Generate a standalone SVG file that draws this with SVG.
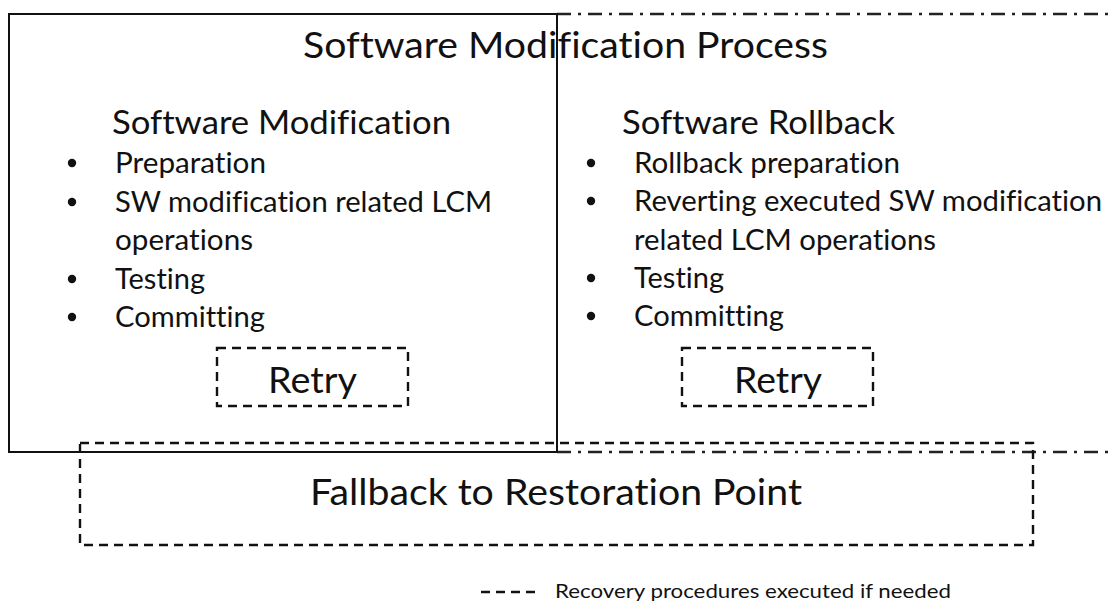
<svg xmlns="http://www.w3.org/2000/svg" width="1114" height="602" viewBox="0 0 1114 602">
<style>
text{font-family:Lato,"Open Sans","Liberation Sans",sans-serif;fill:#111;font-variant-ligatures:none}
circle{fill:#111}
.solid{fill:none;stroke:#111;stroke-width:2}
.dash{fill:none;stroke:#111;stroke-width:2.4;stroke-dasharray:9 6}
.dashdot{fill:none;stroke:#222;stroke-width:2.5;stroke-dasharray:14 7 3 7}
.h1{font-size:37px}
.h2{font-size:33px}
.b{font-size:28px}
.r{font-size:37px}
</style>
<rect width="1114" height="602" fill="#fff"/>
<g id="process">
<path class="dashdot" d="M557 14 H1120 M557 452 H1120"/>
<text class="h1" x="303" y="58" textLength="525" lengthAdjust="spacingAndGlyphs">Software Modification Process</text>
</g>
<g id="modification">
<rect class="solid" x="9" y="14" width="548" height="438"/>
<text class="h2" x="112" y="134" textLength="339" lengthAdjust="spacingAndGlyphs">Software Modification</text>
<circle cx="72" cy="163" r="4.2"/><text class="b" x="115" y="173" textLength="151" lengthAdjust="spacingAndGlyphs">Preparation</text>
<circle cx="72" cy="202" r="4.2"/><text class="b" x="115" y="212" textLength="377" lengthAdjust="spacingAndGlyphs">SW modification related LCM</text>
<text class="b" x="115" y="250" textLength="138" lengthAdjust="spacingAndGlyphs">operations</text>
<circle cx="72" cy="279" r="4.2"/><text class="b" x="115" y="289" textLength="90" lengthAdjust="spacingAndGlyphs">Testing</text>
<circle cx="72" cy="317" r="4.2"/><text class="b" x="115" y="327" textLength="150" lengthAdjust="spacingAndGlyphs">Committing</text>
</g>
<g id="retry-mod">
<rect class="dash" x="217" y="348" width="191" height="58"/>
<text class="r" x="268" y="393" textLength="89" lengthAdjust="spacingAndGlyphs">Retry</text>
</g>
<g id="rollback">
<text class="h2" x="622" y="134" textLength="273" lengthAdjust="spacingAndGlyphs">Software Rollback</text>
<circle cx="591" cy="163" r="4.2"/><text class="b" x="634" y="173" textLength="266" lengthAdjust="spacingAndGlyphs">Rollback preparation</text>
<circle cx="591" cy="201" r="4.2"/><text class="b" x="634" y="211" textLength="468" lengthAdjust="spacingAndGlyphs">Reverting executed SW modification</text>
<text class="b" x="634" y="250" textLength="302" lengthAdjust="spacingAndGlyphs">related LCM operations</text>
<circle cx="591" cy="278" r="4.2"/><text class="b" x="634" y="288" textLength="90" lengthAdjust="spacingAndGlyphs">Testing</text>
<circle cx="591" cy="316" r="4.2"/><text class="b" x="634" y="326" textLength="150" lengthAdjust="spacingAndGlyphs">Committing</text>
</g>
<g id="retry-rollback">
<rect class="dash" x="682" y="348" width="191" height="58"/>
<text class="r" x="734" y="393" textLength="88" lengthAdjust="spacingAndGlyphs">Retry</text>
</g>
<g id="fallback">
<rect class="dash" x="80" y="443" width="953" height="102"/>
<text class="r" x="310" y="505" font-size="33" textLength="492" lengthAdjust="spacingAndGlyphs">Fallback to Restoration Point</text>
</g>
<g id="legend">
<path class="dash" d="M481 592 H540" stroke-dasharray="8 5"/>
<text x="555" y="598" font-size="19" textLength="396" lengthAdjust="spacingAndGlyphs">Recovery procedures executed if needed</text>
</g>
</svg>
